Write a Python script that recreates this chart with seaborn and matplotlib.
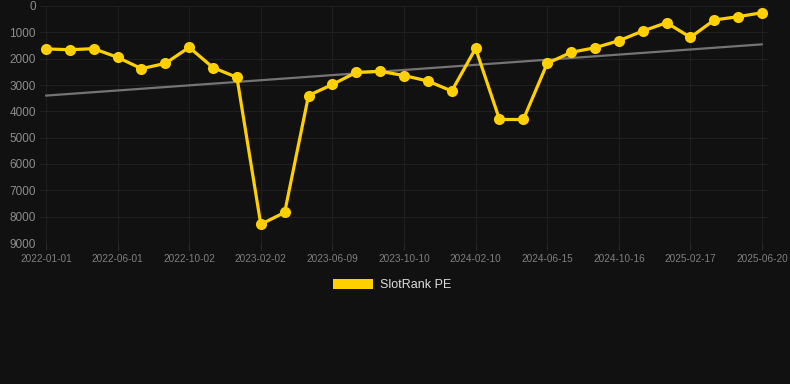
import numpy as np
import pandas as pd
import matplotlib
matplotlib.use("Agg")
import matplotlib.pyplot as plt
import seaborn as sns
from matplotlib.patches import Patch

# 数据（从图中读取的排名值，y 轴反向）
tick_labels = ["2022-01-01", "2022-06-01", "2022-10-02", "2023-02-02", "2023-06-09",
               "2023-10-10", "2024-02-10", "2024-06-15", "2024-10-16", "2025-02-17",
               "2025-06-20"]
rank_values = [1630, 1660, 1620, 1950, 2380, 2180, 1570, 2340, 2710, 8290,
               7840, 3400, 2980, 2520, 2480, 2640, 2850, 3230, 1610, 4310,
               4310, 2180, 1760, 1585, 1320, 950, 635, 1190, 530, 405, 255]
series_name = "SlotRank PE"

df = pd.DataFrame({"idx": np.arange(len(rank_values)), "rank": rank_values})

# 趋势线（线性拟合）
coef = np.polyfit(df["idx"], df["rank"], 1)
df["trend"] = np.polyval(coef, df["idx"])

bg = "#111111"
sns.set_theme(style="dark")
plt.rcParams["font.family"] = ["Liberation Sans", "DejaVu Sans"]

fig = plt.figure(figsize=(7.9, 3.84), dpi=100, facecolor=bg)
ax = fig.add_axes([40 / 790, 1 - 243 / 384, 728 / 790, 237 / 384])
ax.set_facecolor(bg)

sns.lineplot(data=df, x="idx", y="trend", ax=ax, color="#747474", linewidth=1.6, zorder=2)
sns.lineplot(data=df, x="idx", y="rank", ax=ax, color="#FFD000", linewidth=2.3,
             marker="o", markersize=8, markeredgewidth=0, zorder=3)

ax.set_xlim(-0.25, len(rank_values) - 0.75)
ax.set_ylim(9000, 0)
ax.set_yticks(np.arange(0, 9001, 1000))
ax.set_yticklabels([str(v) for v in range(0, 9001, 1000)])
ax.set_xticks(np.arange(0, len(rank_values), 3))
ax.set_xticklabels(tick_labels)

ax.grid(True, color="#1f1f1f", linewidth=0.8)
for s in ax.spines.values():
    s.set_visible(False)
ax.axhline(9000, color="#2e2e2e", linewidth=0.8)
ax.tick_params(axis="y", colors="#8c8c8c", labelsize=8.5, length=0, pad=3)
ax.tick_params(axis="x", colors="#2a2a2a", labelcolor="#7f7f7f", labelsize=7.2,
               length=5, width=0.8, pad=3, direction="out", bottom=True)
ax.set_xlabel("")
ax.set_ylabel("")

fig.legend(handles=[Patch(facecolor="#FFD000", edgecolor="none", label=series_name)],
           loc="center", bbox_to_anchor=(392 / 790, 1 - 285 / 384), frameon=False,
           handlelength=3.2, handleheight=0.9, handletextpad=0.5,
           labelcolor="#dddddd", fontsize=9)

fig.savefig("out.png", dpi=100, facecolor=bg)
